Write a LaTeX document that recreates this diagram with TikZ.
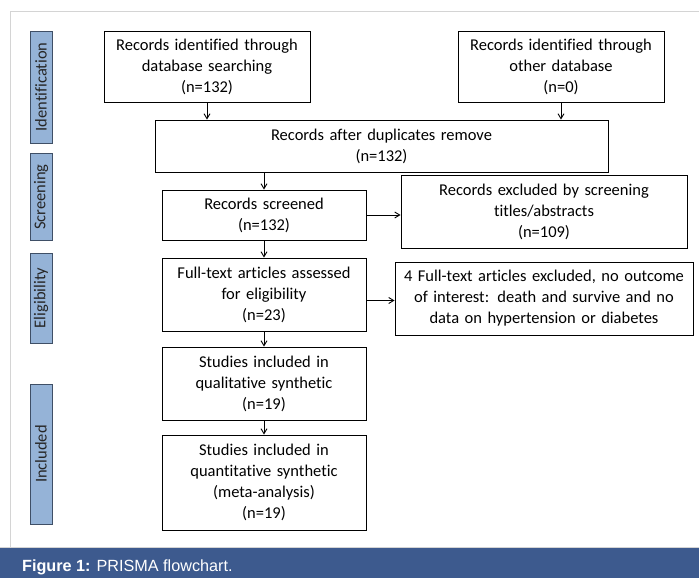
\documentclass[tikz,border=0pt]{standalone}
\usepackage{fontspec}
\setmainfont{Carlito}[Ligatures=NoCommon]
\newfontfamily\capfont{Liberation Sans}
\usetikzlibrary{arrows.meta, positioning, calc}

\definecolor{stageblue}{HTML}{95B3D7}
\definecolor{stageline}{HTML}{3F4F66}
\definecolor{capblue}{HTML}{3D5A8E}
\definecolor{framegray}{HTML}{D4D4D4}

\begin{document}
\begin{tikzpicture}[
  x=1pt, y=-1pt,
  box/.style={rectangle, draw, line width=0.9pt, inner sep=0pt, align=center,
    font=\fontsize{16.5}{21}\selectfont},
  stage/.style={rectangle, draw=stageline, line width=0.9pt, fill=stageblue, rotate=90,
    minimum height=22pt, inner sep=0pt, text=black!85, font=\fontsize{16.5}{18}\selectfont},
  flow/.style={-{Straight Barb[length=5pt, width=6pt]}, line width=0.9pt}
]
\useasboundingbox (0,0) rectangle (699,578);

% Frame and caption
\draw[framegray, line width=1pt] (10,578) -- (10,12) -- (699,12);
\fill[capblue] (0,548) rectangle (699,578);
\draw[framegray, line width=1pt] (0,547) -- (699,547);
\node[anchor=base west, text=white, font=\capfont\fontsize{16.2}{18}\selectfont, inner sep=0pt] (cap) at (22,571)
  {\textbf{Figure 1:} PRISMA flowchart.};

% Stages
\node[stage, minimum width=112pt] (ident) at (41,87) {Identification};
\node[stage, minimum width=87pt] (screen) at (41,197) {Screening};
\node[stage, minimum width=90pt] (elig) at (41,298) {Eligibility};
\node[stage, minimum width=140pt] (incl) at (41,454) {Included};

% Boxes
\node[box, text width=206pt, minimum height=71pt] (dbsearch) at (207,66.5)
  {Records identified through\\database searching\\(n=132)};
\node[box, text width=206pt, minimum height=71pt] (otherdb) at (561,66.5)
  {Records identified through\\other database\\(n=0)};
\node[box, text width=453pt, minimum height=52pt] (dupl) at (381.5,146)
  {Records after duplicates remove\\(n=132)};
\node[box, text width=204pt, minimum height=50pt] (screened) at (264,215)
  {Records screened\\(n=132)};
\node[box, text width=286pt, minimum height=73pt] (excl) at (544,211.5)
  {Records excluded by screening\\titles/abstracts\\(n=109)};
\node[box, text width=204pt, minimum height=73pt] (fulltext) at (264,294.5)
  {Full-text articles assessed\\for eligibility\\(n=23)};
\node[box, text width=298pt, minimum height=73pt] (ftexcl) at (544,298.5)
  {4 Full-text articles excluded, no outcome\\of interest: death and survive and no\\data on hypertension or diabetes};
\node[box, text width=204pt, minimum height=73pt] (qual) at (264,383.5)
  {Studies included in\\qualitative synthetic\\(n=19)};
\node[box, text width=204pt, minimum height=95pt] (quant) at (264,482.5)
  {Studies included in\\quantitative synthetic\\(meta-analysis)\\(n=19)};

% Connectors
\draw[flow] (dbsearch.south) -- (dbsearch.south |- dupl.north);
\draw[flow] (otherdb.south) -- (otherdb.south |- dupl.north);
\draw[flow] (screened.north |- dupl.south) -- (screened.north);
\draw[flow] (screened.east) -- (screened.east -| excl.west);
\draw[flow] (screened.south) -- (fulltext.north);
\draw[flow] ([yshift=-6pt]fulltext.east) -- ([yshift=-6pt]fulltext.east -| ftexcl.west);
\draw[flow] (fulltext.south) -- (qual.north);
\draw[flow] (qual.south) -- (quant.north);

\end{tikzpicture}
\end{document}
